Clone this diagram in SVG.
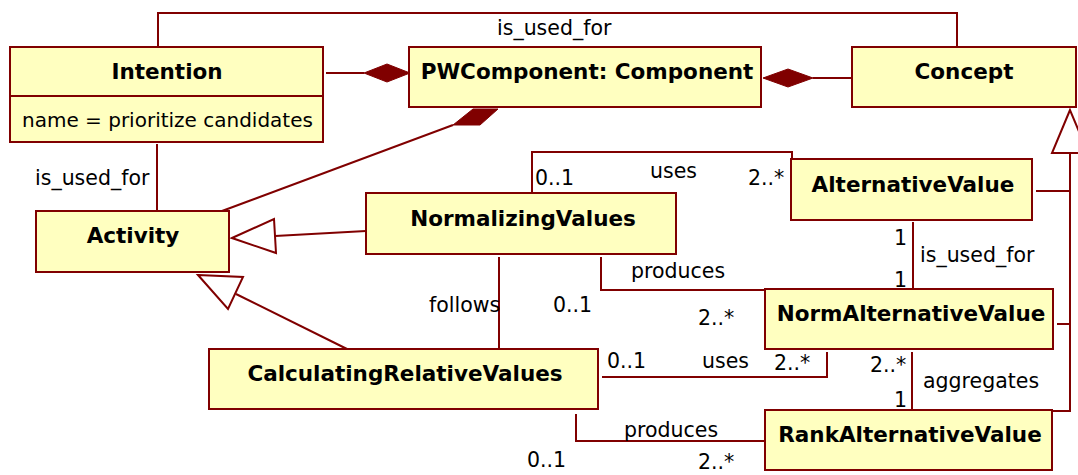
<svg xmlns="http://www.w3.org/2000/svg" width="1078" height="475" viewBox="0 0 1078 475">
<style>
.box{fill:#ffffc0;stroke:#800000;stroke-width:2}
.ln{fill:none;stroke:#800000;stroke-width:2}
.dia{fill:#800000;stroke:#800000;stroke-width:1}
.tri{fill:#ffffff;stroke:#800000;stroke-width:2}
.t{font-family:"DejaVu Sans","Liberation Sans",sans-serif;font-weight:bold;font-size:21.5px;fill:#000;text-anchor:middle}
.l{font-family:"DejaVu Sans","Liberation Sans",sans-serif;font-size:20.5px;fill:#000}
</style>
<rect width="1078" height="475" fill="#ffffff"/>
<g id="connectors">
  <polyline class="ln" points="158,47 158,13 957,13 957,47"/>
  <text class="l" x="497" y="35">is_used_for</text>
  <line class="ln" x1="326" y1="73" x2="364" y2="73"/>
  <polygon class="dia" points="364,73 387,64 410,73 387,82"/>
  <line class="ln" x1="813" y1="78" x2="852" y2="78"/>
  <polygon class="dia" points="763,78 788,69 813,78 788,87"/>
  <line class="ln" x1="453" y1="125" x2="222" y2="211"/>
  <polygon class="dia" points="453,125 480,125 498,109 473,109"/>
  <line class="ln" x1="157" y1="144" x2="157" y2="211"/>
  <text class="l" x="35" y="185">is_used_for</text>
  <line class="ln" x1="275" y1="236" x2="366" y2="231"/>
  <polygon class="tri" points="232,238 274,219 276,253"/>
  <line class="ln" x1="236" y1="294" x2="347" y2="349"/>
  <polygon class="tri" points="198,275 243,277 228,309"/>
  <polyline class="ln" points="532,193 532,152 792,152 792,159"/>
  <text class="l" x="535" y="185">0..1</text>
  <text class="l" x="650" y="178">uses</text>
  <text class="l" x="748" y="185">2..*</text>
  <line class="ln" x1="499" y1="257" x2="499" y2="349"/>
  <text class="l" x="429" y="312">follows</text>
  <polyline class="ln" points="601,257 601,290 765,290"/>
  <text class="l" x="631" y="278">produces</text>
  <text class="l" x="553" y="312">0..1</text>
  <text class="l" x="698" y="325">2..*</text>
  <polyline class="ln" points="602,377 827,377 827,352"/>
  <text class="l" x="607" y="368">0..1</text>
  <text class="l" x="702" y="368">uses</text>
  <text class="l" x="774" y="370">2..*</text>
  <polyline class="ln" points="576,414 576,441 765,441"/>
  <text class="l" x="624" y="437">produces</text>
  <text class="l" x="527" y="467">0..1</text>
  <text class="l" x="698" y="469">2..*</text>
  <line class="ln" x1="913" y1="222" x2="913" y2="289"/>
  <text class="l" x="894" y="245">1</text>
  <text class="l" x="894" y="287">1</text>
  <text class="l" x="920" y="262">is_used_for</text>
  <line class="ln" x1="912" y1="352" x2="912" y2="410"/>
  <text class="l" x="870" y="372">2..*</text>
  <text class="l" x="894" y="407">1</text>
  <text class="l" x="923" y="388">aggregates</text>
  <polyline class="ln" points="1070,153 1070,411 1053,411"/>
  <line class="ln" x1="1036" y1="191" x2="1070" y2="191"/>
  <line class="ln" x1="1057" y1="324" x2="1070" y2="324"/>
  <polygon class="tri" points="1070,110 1052,153 1088,153"/>
</g>
<g id="Intention">
  <rect class="box" x="10" y="47" width="313" height="95"/>
  <line class="ln" x1="10" y1="96" x2="324" y2="96"/>
  <text class="t" x="167" y="79">Intention</text>
  <text class="l" x="22" y="127" style="font-size:20px">name = prioritize candidates</text>
</g>
<g id="PWComponent">
  <rect class="box" x="409" y="47" width="352" height="60"/>
  <text class="t" x="587" y="79">PWComponent: Component</text>
</g>
<g id="Concept">
  <rect class="box" x="852" y="47" width="224" height="60"/>
  <text class="t" x="964" y="79">Concept</text>
</g>
<g id="Activity">
  <rect class="box" x="36" y="211" width="193" height="61"/>
  <text class="t" x="133" y="243">Activity</text>
</g>
<g id="NormalizingValues">
  <rect class="box" x="366" y="193" width="310" height="61"/>
  <text class="t" x="523" y="226">NormalizingValues</text>
</g>
<g id="CalculatingRelativeValues">
  <rect class="box" x="209" y="349" width="389" height="60"/>
  <text class="t" x="405" y="381">CalculatingRelativeValues</text>
</g>
<g id="AlternativeValue">
  <rect class="box" x="791" y="159" width="241" height="61"/>
  <text class="t" x="913" y="192">AlternativeValue</text>
</g>
<g id="NormAlternativeValue">
  <rect class="box" x="765" y="289" width="288" height="60"/>
  <text class="t" x="911" y="321">NormAlternativeValue</text>
</g>
<g id="RankAlternativeValue">
  <rect class="box" x="765" y="410" width="287" height="60"/>
  <text class="t" x="910" y="442">RankAlternativeValue</text>
</g>
</svg>
